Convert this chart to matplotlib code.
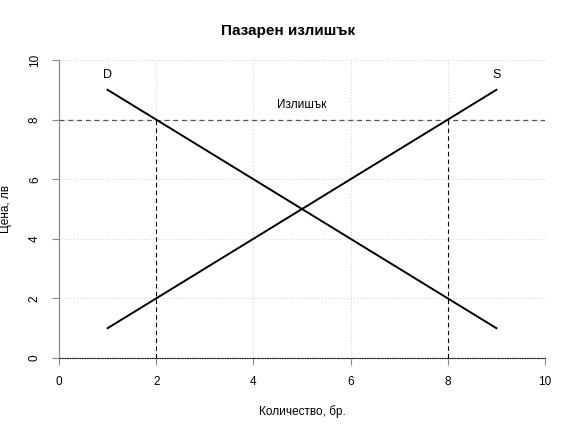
import matplotlib
matplotlib.use('Agg')
import matplotlib.pyplot as plt

# Market surplus: demand and supply lines
quantity = [1, 2, 3, 4, 5, 6, 7, 8, 9]
demand = [9, 8, 7, 6, 5, 4, 3, 2, 1]
supply = [1, 2, 3, 4, 5, 6, 7, 8, 9]
price_level = 8
qd_at_price = 2
qs_at_price = 8
ticks = [0, 2, 4, 6, 8, 10]

plt.rcParams['font.family'] = ['Liberation Sans', 'DejaVu Sans']

fig = plt.figure(figsize=(5.76, 4.32), dpi=100)
ax = fig.add_axes([0.1024, 0.1713, 0.8438, 0.6898])

# grid
for t in ticks[1:]:
    ax.axvline(t, color='#d3d3d3', linestyle=(0, (1, 2)), linewidth=0.7, zorder=0)
    ax.axhline(t, color='#d3d3d3', linestyle=(0, (1, 2)), linewidth=0.7, zorder=0)

ax.axhline(0, color='black', linestyle=(0, (2, 1)), linewidth=0.6, zorder=5, clip_on=False)
ax.axhline(price_level, color='#555555', linestyle=(0, (4, 3)), linewidth=0.9, zorder=1)
ax.plot([qd_at_price, qd_at_price], [0, price_level], color='black',
        linestyle=(0, (4, 3)), linewidth=0.8)
ax.plot([qs_at_price, qs_at_price], [0, price_level], color='black',
        linestyle=(0, (4, 3)), linewidth=0.8)

ax.plot(quantity, demand, color='black', linewidth=1.4)
ax.plot(quantity, supply, color='black', linewidth=1.4)

ax.text(quantity[0], 9.5, 'D', ha='center', va='center', fontsize=9)
ax.text(quantity[-1], 9.5, 'S', ha='center', va='center', fontsize=9)
ax.text(5, 8.5, 'Излишък', ha='center', va='center', fontsize=8.5)

ax.set_xlim(0, 10)
ax.set_ylim(0, 10)
ax.set_xticks(ticks)
ax.set_yticks(ticks)
ax.tick_params(axis='both', direction='out', length=5, width=0.8, color='#888888',
               labelsize=8.5, pad=8)
ax.set_yticklabels([str(t) for t in ticks], rotation=90, va='center')
for side in ['top', 'right']:
    ax.spines[side].set_visible(False)
for side in ['left', 'bottom']:
    ax.spines[side].set_color('#888888')
    ax.spines[side].set_linewidth(0.9)
    ax.spines[side].set_zorder(0.5)

ax.set_xlabel('Количество, бр.', fontsize=8.5, labelpad=12)
ax.set_ylabel('Цена, лв', fontsize=8.5, labelpad=12)
fig.suptitle('Пазарен излишък', fontsize=11, fontweight='bold', y=0.945)

fig.savefig('out.png', dpi=100)
